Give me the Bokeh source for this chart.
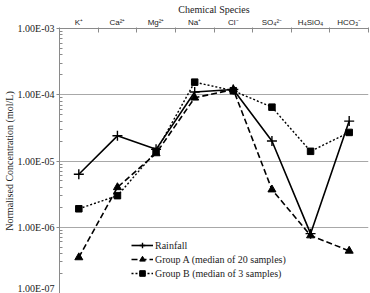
from bokeh.plotting import figure
from bokeh.models import FixedTicker, CustomJSTickFormatter, Legend, LegendItem
from bokeh.embed import file_html
from bokeh.resources import INLINE

species = ["K⁺", "Ca²⁺", "Mg²⁺", "Na⁺", "Cl⁻", "SO₄²⁻", "H₄SiO₄", "HCO₃⁻"]
rainfall = [6.3e-6, 2.4e-5, 1.5e-5, 1.1e-4, 1.2e-4, 2.0e-5, 8.0e-7, 4.0e-5]
group_a = [3.5e-7, 4.0e-6, 1.3e-5, 9.0e-5, 1.2e-4, 3.7e-6, 7.5e-7, 4.4e-7]
group_b = [1.9e-6, 3.0e-6, 1.4e-5, 1.55e-4, 1.15e-4, 6.5e-5, 1.4e-5, 2.7e-5]
decades = [1e-7, 1e-6, 1e-5, 1e-4, 1e-3]

xs = [i + 0.5 for i in range(len(species))]

SERIF = "Liberation Serif"
SANS = "Liberation Sans"

p = figure(width=370, height=293, y_axis_type="log", x_range=(0, len(species)),
           y_range=(decades[0], decades[-1]), x_axis_location="above",
           output_backend="svg", toolbar_location=None,
           min_border_left=0, min_border_right=2, min_border_top=0, min_border_bottom=0)
p.outline_line_color = None
p.background_fill_color = "white"

# top categorical axis
xa = p.xaxis[0]
xa.ticker = FixedTicker(ticks=xs, minor_ticks=list(range(len(species) + 1)))
xa.formatter = CustomJSTickFormatter(args=dict(cats=species),
                                     code="return cats[Math.floor(tick)]")
xa.major_tick_in = 0
xa.major_tick_out = 0
xa.minor_tick_in = 4
xa.minor_tick_out = 1
xa.axis_line_color = "#8a8a8a"
xa.minor_tick_line_color = "#8a8a8a"
xa.major_label_text_font = SANS
xa.major_label_text_font_size = "8px"
xa.major_label_text_color = "#222222"
xa.major_label_standoff = 1
xa.axis_label = "Chemical Species"
xa.axis_label_text_font = SERIF
xa.axis_label_text_font_size = "10px"
xa.axis_label_text_font_style = "normal"
xa.axis_label_text_color = "#222222"
xa.axis_label_standoff = 0

# left log axis
ya = p.yaxis[0]
minor = [m * d for d in decades[:-1] for m in range(2, 10)]
ya.ticker = FixedTicker(ticks=decades, minor_ticks=minor)
ya.formatter = CustomJSTickFormatter(code="""
const s = tick.toExponential(2).toUpperCase();
return s.replace(/E([+-])(\\d)$/, 'E$10$2');
""")
ya.major_tick_in = 0
ya.major_tick_out = 3
ya.minor_tick_in = 3
ya.minor_tick_out = 0
ya.axis_line_color = "#8a8a8a"
ya.major_tick_line_color = "#8a8a8a"
ya.minor_tick_line_color = "#8a8a8a"
ya.major_label_text_font = SERIF
ya.major_label_text_font_size = "10px"
ya.major_label_text_color = "#222222"
ya.major_label_standoff = 2
ya.axis_label = "Normalised Concentration (mol/L)"
ya.axis_label_text_font = SERIF
ya.axis_label_text_font_size = "10px"
ya.axis_label_text_font_style = "normal"
ya.axis_label_text_color = "#222222"
ya.axis_label_standoff = 0

p.xgrid.visible = False
p.ygrid.ticker = FixedTicker(ticks=decades)
p.ygrid.grid_line_color = "#a8a8a8"
p.ygrid.grid_line_width = 1

r1 = p.line(xs, rainfall, line_color="black", line_width=1.6)
m1 = p.scatter(xs, rainfall, marker="cross", size=10, line_color="black", line_width=1.4)
r2 = p.line(xs, group_a, line_color="black", line_width=1.6, line_dash="6 3")
m2 = p.scatter(xs, group_a, marker="triangle", size=8, fill_color="black", line_color="black")
r3 = p.line(xs, group_b, line_color="black", line_width=1.4, line_dash="2 2")
m3 = p.scatter(xs, group_b, marker="square", size=6.5, fill_color="black", line_color="black")

legend = Legend(items=[
    LegendItem(label="Rainfall", renderers=[r1, m1]),
    LegendItem(label="Group A (median of 20 samples)", renderers=[r2, m2]),
    LegendItem(label="Group B (median of 3 samples)", renderers=[r3, m3]),
], location=(72, 13))
legend.background_fill_alpha = 0
legend.border_line_color = None
legend.label_text_font = SERIF
legend.label_text_font_size = "10px"
legend.label_text_color = "#222222"
legend.glyph_width = 22
legend.glyph_height = 14
legend.label_height = 14
legend.spacing = 0
legend.padding = 2
legend.margin = 0
legend.label_standoff = 2
p.add_layout(legend)

open("out.html", "w").write(file_html(p, INLINE))
